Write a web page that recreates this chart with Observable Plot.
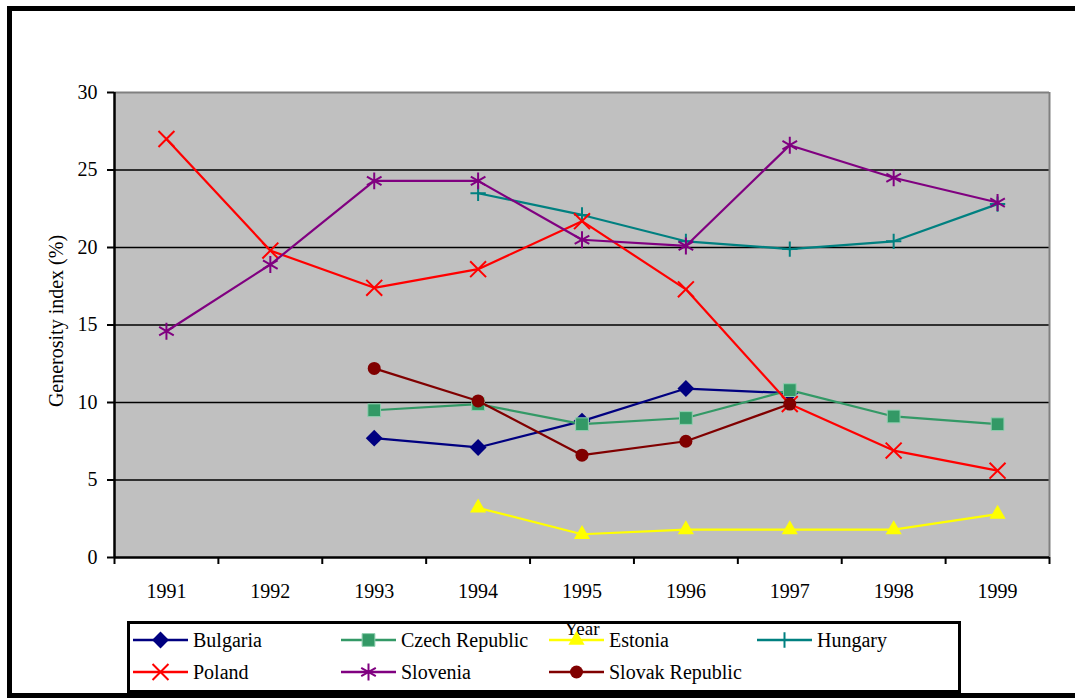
<!DOCTYPE html>
<html>
<head>
<meta charset="utf-8">
<script src="https://cdn.jsdelivr.net/npm/d3@7"></script>
<script src="https://cdn.jsdelivr.net/npm/@observablehq/plot@0.6"></script>
<style>
  html, body { margin: 0; padding: 0; background: #fff; overflow: hidden; }
  #wrap { position: relative; width: 1075px; height: 698px; font-family: "Liberation Serif", "DejaVu Serif", serif; }
  #border { position: absolute; left: 7px; top: 6px; width: 1100px; height: 682px;
            border-left: 5px solid #000; border-top: 5px solid #000; border-bottom: 5px solid #000; }
  #chart { position: absolute; left: 0; top: 0; }
  #legend { position: absolute; left: 127px; top: 621px; width: 828px; height: 66px;
            border: 3px solid #000; box-sizing: content-box; }
  .item { position: absolute; display: flex; align-items: center; height: 24px; font-size: 20px; color: #000; white-space: nowrap; }
  .item svg { display: block; margin-right: 3px; }
</style>
</head>
<body>
<div id="wrap">
  <div id="border"></div>
  <div id="chart"></div>
  <div id="legend"></div>
</div>
<script>
// Generosity index (%) by country, 1991–1999 (null = no data)
const years = [1991, 1992, 1993, 1994, 1995, 1996, 1997, 1998, 1999];
const bulgaria = [null, null, 7.7, 7.1, 8.8, 10.9, 10.6, null, null];
const czechRepublic = [null, null, 9.5, 9.9, 8.6, 9.0, 10.8, 9.1, 8.6];
const estonia = [null, null, null, 3.2, 1.5, 1.8, 1.8, 1.8, 2.8];
const hungary = [null, null, null, 23.5, 22.1, 20.4, 19.9, 20.4, 22.8];
const poland = [27.0, 19.8, 17.4, 18.6, 21.7, 17.3, 9.9, 6.9, 5.6];
const slovenia = [14.6, 18.9, 24.3, 24.3, 20.5, 20.1, 26.6, 24.5, 22.9];
const slovakRepublic = [null, null, 12.2, 10.1, 6.6, 7.5, 9.9, null, null];
const yTicks = [0, 5, 10, 15, 20, 25, 30];

const serifFont = "'Liberation Serif', 'DejaVu Serif', serif";

// Series styling: colour, marker symbol, marker radius, filled or stroked marker
const series = [
  {name: "Bulgaria", values: bulgaria, color: "#000080", symbol: "diamond2", r: 7.6, filled: true, col: 0, row: 0},
  {name: "Czech Republic", values: czechRepublic, color: "#339966", symbol: "square", r: 7.2, filled: true, col: 1, row: 0},
  {name: "Estonia", values: estonia, color: "#FFFF00", symbol: "triangle", r: 6.0, filled: true, col: 2, row: 0},
  {name: "Hungary", values: hungary, color: "#008080", symbol: "plus", r: 5.0, filled: false, col: 3, row: 0},
  {name: "Poland", values: poland, color: "#FF0000", symbol: "times", r: 7.3, filled: false, col: 0, row: 1},
  {name: "Slovenia", values: slovenia, color: "#800080", symbol: "asterisk", r: 8.0, filled: false, col: 1, row: 1},
  {name: "Slovak Republic", values: slovakRepublic, color: "#800000", symbol: "circle", r: 6.5, filled: true, col: 2, row: 1}
];

const rowsFor = s => years.map((year, i) => ({year, value: s.values[i]})).filter(d => d.value != null);
const boundaries = d3.range(years.length + 1).map(i => years[0] - 0.5 + i);

const seriesMarks = series.flatMap(s => {
  const data = rowsFor(s);
  return [
    Plot.line(data, {x: "year", y: "value", stroke: s.color, strokeWidth: 2.2}),
    Plot.dot(data, {
      x: "year", y: "value", symbol: () => s.symbol, r: s.r,
      fill: s.filled ? s.color : "none",
      stroke: s.filled ? (s.symbol === "square" ? "#8fcfaf" : "none") : s.color,
      strokeWidth: s.filled ? 1 : 2
    })
  ];
});

const chart = Plot.plot({
  width: 1075,
  height: 698,
  marginLeft: 114,
  marginRight: 26,
  marginTop: 92,
  marginBottom: 141,
  style: {fontFamily: serifFont, fontSize: "20px", background: "transparent", color: "#000"},
  x: {type: "linear", domain: [years[0] - 0.5, years[years.length - 1] + 0.5]},
  y: {domain: [0, 30]},
  marks: [
    Plot.frame({fill: "#C0C0C0", stroke: null}),
    Plot.ruleY(yTicks.filter(v => v > 0 && v < 30), {stroke: "#000", strokeWidth: 1.3}),
    Plot.ruleY([30], {stroke: "#808080", strokeWidth: 2}),
    Plot.ruleX([boundaries[boundaries.length - 1]], {stroke: "#808080", strokeWidth: 2}),
    Plot.axisY({ticks: yTicks, tickSize: 7, tickPadding: 10, tickFormat: d => String(d), label: null, strokeWidth: 2, fontSize: 20, fontFamily: serifFont}),
    Plot.axisX({ticks: boundaries, tickSize: 7, tickFormat: () => "", label: null, strokeWidth: 2}),
    Plot.axisX({ticks: years, tickSize: 0, tickPadding: 26, tickFormat: d => String(d), label: null, fontSize: 20, fontFamily: serifFont}),
    Plot.ruleX([boundaries[0]], {stroke: "#000", strokeWidth: 2.5}),
    Plot.ruleY([0], {stroke: "#000", strokeWidth: 2.5}),
    ...seriesMarks,
    Plot.text(["Generosity index (%)"], {
      text: d => d, frameAnchor: "left", textAnchor: "middle", lineAnchor: "middle",
      rotate: -90, dx: -58, dy: -4, fontSize: 20, fontFamily: serifFont
    }),
    Plot.text(["Year"], {
      text: d => d, frameAnchor: "bottom", textAnchor: "middle", lineAnchor: "middle",
      dy: 71, fontSize: 19, fontFamily: serifFont
    })
  ]
});
document.getElementById("chart").appendChild(chart);

// Legend: line segment with the series marker, then the name
const symbolTypes = {
  diamond2: d3.symbolDiamond2, square: d3.symbolSquare, triangle: d3.symbolTriangle,
  plus: d3.symbolPlus, times: d3.symbolTimes, asterisk: d3.symbolAsterisk, circle: d3.symbolCircle
};
const legend = d3.select("#legend");
const colX = [2, 210, 418, 626];
const rowY = [4, 36];
for (const s of series) {
  const item = legend.append("div").attr("class", "item")
    .style("left", colX[s.col] + "px").style("top", rowY[s.row] + "px");
  const svg = item.append("svg").attr("width", 58).attr("height", 24);
  svg.append("line").attr("x1", 1).attr("x2", 56).attr("y1", 12).attr("y2", 12)
    .attr("stroke", s.color).attr("stroke-width", 2.5);
  svg.append("path")
    .attr("transform", "translate(28.5,12)")
    .attr("d", d3.symbol(symbolTypes[s.symbol], Math.PI * s.r * s.r)())
    .attr("fill", s.filled ? s.color : "none")
    .attr("stroke", s.filled ? (s.symbol === "square" ? "#8fcfaf" : "none") : s.color)
    .attr("stroke-width", s.filled ? 1 : 2);
  item.append("span").text(s.name);
}
</script>
</body>
</html>
